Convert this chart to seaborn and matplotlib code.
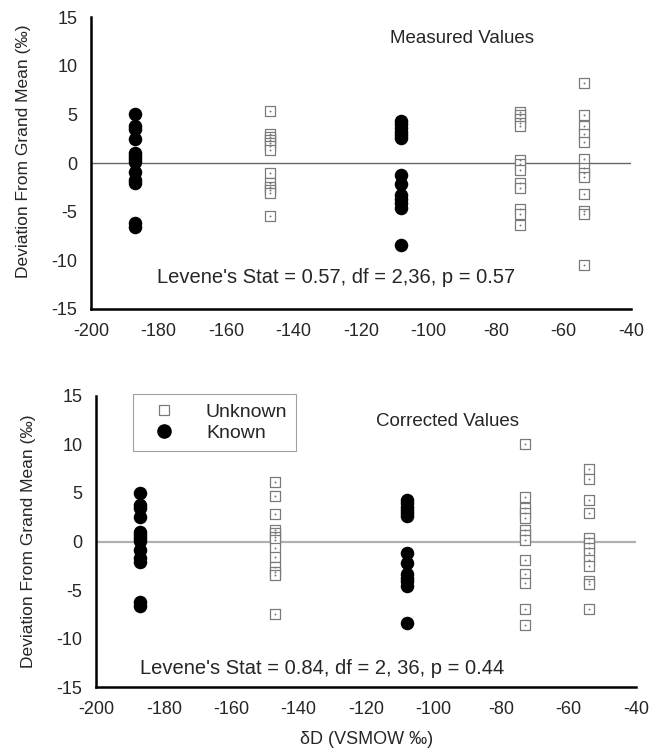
import matplotlib
matplotlib.use("Agg")
import matplotlib.pyplot as plt
import numpy as np
import pandas as pd
import seaborn as sns

# ---- data (deviation from grand mean, per mil) ----
KNOWN_X = [-187, -108]
UNKNOWN_X = [-147, -73, -54]

known_a = [5.0, 3.8, 3.5, 2.5, 1.0, 0.7, 0.4, 0.1, -0.9, -1.7, -2.1, -6.2, -6.6]
known_b = [4.3, 4.0, 3.6, 3.2, 2.9, 2.6, -1.2, -2.2, -3.3, -3.7, -4.1, -4.6, -8.4]

measured_147 = [5.4, 3.0, 2.7, 2.4, 2.1, 1.8, 1.3, -1.0, -2.0, -2.5, -2.8, -3.1, -5.4]
measured_73 = [5.3, 4.9, 4.5, 4.1, 3.8, 0.3, -0.1, -0.7, -2.1, -2.6, -4.7, -5.2, -6.4]
measured_54 = [8.2, 4.9, 3.8, 3.0, 2.2, 0.4, -0.5, -1.0, -1.4, -3.2, -4.9, -5.2, -10.5]

corrected_147 = [6.1, 4.7, 2.8, 1.2, 0.9, 0.5, 0.2, -0.7, -1.6, -2.6, -3.1, -3.4, -7.4]
corrected_73 = [10.0, 4.6, 3.4, 2.9, 2.4, 1.2, 0.7, 0.2, -1.9, -3.3, -4.3, -6.9, -8.6]
corrected_54 = [7.5, 6.4, 4.3, 2.9, 0.35, -0.2, -0.7, -1.2, -1.9, -2.5, -4.1, -4.4, -6.9]

X_TICKS = [-200, -180, -160, -140, -120, -100, -80, -60, -40]
Y_TICKS = [-15, -10, -5, 0, 5, 10, 15]


def make_frame(known_lists, unknown_lists):
    rows = []
    for x, vals in zip(KNOWN_X, known_lists):
        rows += [(x, v, "Known") for v in vals]
    for x, vals in zip(UNKNOWN_X, unknown_lists):
        rows += [(x, v, "Unknown") for v in vals]
    return pd.DataFrame(rows, columns=["dD", "dev", "kind"])


measured = make_frame([known_a, known_b], [measured_147, measured_73, measured_54])
corrected = make_frame([known_a, known_b], [corrected_147, corrected_73, corrected_54])

sns.set_style("white")
plt.rcParams["font.family"] = ["Liberation Sans", "DejaVu Sans"]
plt.rcParams["axes.unicode_minus"] = False

fig = plt.figure(figsize=(6.51, 7.48), dpi=100)
ax1 = fig.add_axes([0.140, 0.587, 0.829, 0.390])
ax2 = fig.add_axes([0.148, 0.081, 0.829, 0.390])


def draw_panel(ax, df, zero_color, zero_lw, label_y):
    ax.axhline(0, color=zero_color, lw=zero_lw, zorder=1)
    unk = df[df["kind"] == "Unknown"]
    kn = df[df["kind"] == "Known"]
    sns.scatterplot(data=unk, x="dD", y="dev", ax=ax, marker="s", s=46,
                    facecolor="white", edgecolor="#7a7a7a", linewidth=0.9,
                    zorder=3)
    sns.scatterplot(data=unk, x="dD", y="dev", ax=ax, marker="o", s=2,
                    color="#7a7a7a", linewidth=0, zorder=4)
    sns.scatterplot(data=kn, x="dD", y="dev", ax=ax, marker="o", s=95,
                    color="black", linewidth=0, zorder=5)
    ax.set_xlim(-200, -40)
    ax.set_ylim(-15, 15)
    ax.set_xticks(X_TICKS)
    ax.set_yticks(Y_TICKS)
    ax.set_xlabel("")
    ax.set_ylabel("Deviation From Grand Mean (‰)", fontsize=12.5)
    ax.yaxis.set_label_coords(-0.112, label_y)
    for s in ["top", "right"]:
        ax.spines[s].set_visible(False)
    for s in ["left", "bottom"]:
        ax.spines[s].set_linewidth(1.8)
        ax.spines[s].set_color("black")
    ax.tick_params(axis="x", direction="in", length=3, width=0.8,
                   labelsize=13, pad=10)
    ax.tick_params(axis="y", direction="in", length=0, labelsize=13, pad=10)


draw_panel(ax1, measured, "#666666", 1.0, 0.54)
draw_panel(ax2, corrected, "#b0b0b0", 1.6, 0.5)

ax1.text(-90, 12.8, "Measured Values", ha="center", va="center", fontsize=13.5)
ax1.text(-127.5, -11.8, "Levene's Stat = 0.57, df = 2,36, p = 0.57",
         ha="center", va="center", fontsize=14.5)

ax2.text(-96, 12.3, "Corrected Values", ha="center", va="center", fontsize=13.5)
ax2.text(-133, -13.1, "Levene's Stat = 0.84, df = 2, 36, p = 0.44",
         ha="center", va="center", fontsize=14.5)
ax2.set_xlabel("δD (VSMOW ‰)", fontsize=13, labelpad=9)

h_unk = plt.Line2D([], [], ls="none", marker="s", ms=7, mfc="white",
                   mec="#7a7a7a", mew=0.9)
h_kn = plt.Line2D([], [], ls="none", marker="o", ms=9.5, color="black")
leg = ax2.legend([h_unk, h_kn], ["Unknown", "Known"], loc="upper left",
                 bbox_to_anchor=(0.068, 1.005), fontsize=14, frameon=True,
                 fancybox=False, borderpad=0.45, handletextpad=1.0,
                 handlelength=2.3, labelspacing=0.2, borderaxespad=0)
leg.get_frame().set_edgecolor("#888888")
leg.get_frame().set_linewidth(0.8)

fig.savefig("out.png", dpi=100, facecolor="white")
